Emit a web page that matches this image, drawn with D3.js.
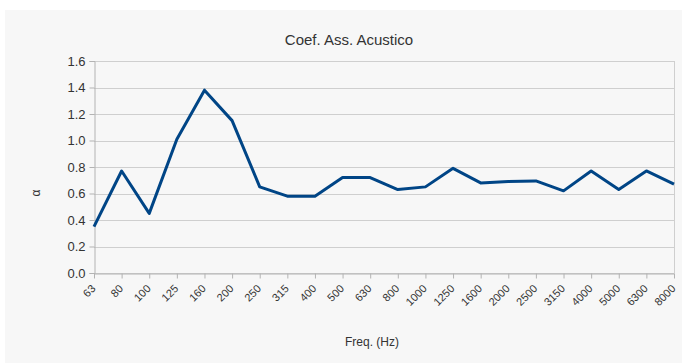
<!DOCTYPE html>
<html>
<head>
<meta charset="utf-8">
<script src="https://cdn.jsdelivr.net/npm/d3@7"></script>
<style>
  html, body { margin: 0; padding: 0; background: #fff; }
  svg { display: block; font-family: 'Liberation Sans', Arial, sans-serif; }
</style>
</head>
<body>
<div id="chart"></div>
<script>
const freqs = ['63', '80', '100', '125', '160', '200', '250', '315', '400', '500', '630',
  '800', '1000', '1250', '1600', '2000', '2500', '3150', '4000', '5000', '6300', '8000'];
const alphaValues = [0.35, 0.77, 0.45, 1.01, 1.38, 1.15, 0.65, 0.58, 0.58, 0.72, 0.72,
  0.63, 0.65, 0.79, 0.68, 0.69, 0.695, 0.62, 0.77, 0.63, 0.77, 0.67];
const yTicks = [0, 0.2, 0.4, 0.6, 0.8, 1.0, 1.2, 1.4, 1.6];

const width = 682;
const height = 363;
const margin = { top: 61, right: 8, bottom: 90, left: 94 };

const svg = d3.select('#chart')
  .append('svg')
  .attr('width', width)
  .attr('height', height);

// chart background
svg.append('rect')
  .attr('x', 5)
  .attr('y', 10)
  .attr('width', width - 5)
  .attr('height', height - 10)
  .attr('fill', '#f7f7f7');

const x = d3.scalePoint()
  .domain(freqs)
  .range([margin.left, width - margin.right]);

const y = d3.scaleLinear()
  .domain([0, 1.6])
  .range([height - margin.bottom, margin.top]);

// grid
svg.append('g')
  .selectAll('line')
  .data(yTicks)
  .enter()
  .append('line')
  .attr('x1', margin.left)
  .attr('x2', width - margin.right)
  .attr('y1', (d) => Math.round(y(d)) + 0.5)
  .attr('y2', (d) => Math.round(y(d)) + 0.5)
  .attr('stroke', '#cfcfcf')
  .attr('stroke-width', 1);

// right border
svg.append('line')
  .attr('x1', width - margin.right + 0.5)
  .attr('x2', width - margin.right + 0.5)
  .attr('y1', y(1.6))
  .attr('y2', y(0))
  .attr('stroke', '#cfcfcf');

// y axis
const yAxis = svg.append('g')
  .attr('transform', `translate(${margin.left + 0.5},0)`)
  .call(d3.axisLeft(y).tickValues(yTicks).tickFormat(d3.format('.1f')).tickSize(5).tickPadding(4));
yAxis.select('.domain').attr('stroke', '#b3b3b3');
yAxis.selectAll('.tick line').attr('stroke', '#b3b3b3');
yAxis.selectAll('.tick text')
  .attr('fill', '#333')
  .style('font-size', '13px');

// x axis
const xAxis = svg.append('g')
  .attr('transform', `translate(0,${Math.round(y(0)) + 0.5})`)
  .call(d3.axisBottom(x).tickSize(5).tickSizeOuter(0));
xAxis.select('.domain').attr('stroke', '#b3b3b3');
xAxis.selectAll('.tick line').attr('stroke', '#b3b3b3');
xAxis.selectAll('.tick text')
  .attr('fill', '#333')
  .style('font-size', '11px')
  .attr('text-anchor', 'end')
  .attr('x', 0)
  .attr('y', 0)
  .attr('dy', '0.35em')
  .attr('transform', 'translate(-1,13) rotate(-45)');

// line
const line = d3.line()
  .x((d, i) => x(freqs[i]))
  .y((d) => y(d));

svg.append('path')
  .datum(alphaValues)
  .attr('d', line)
  .attr('fill', 'none')
  .attr('stroke', '#004586')
  .attr('stroke-width', 3)
  .attr('stroke-linejoin', 'round');

// title
svg.append('text')
  .attr('x', 349)
  .attr('y', 45)
  .attr('text-anchor', 'middle')
  .attr('fill', '#333')
  .style('font-size', '15px')
  .text('Coef. Ass. Acustico');

// axis titles
svg.append('text')
  .attr('x', 372)
  .attr('y', 346)
  .attr('text-anchor', 'middle')
  .attr('fill', '#333')
  .style('font-size', '12px')
  .text('Freq. (Hz)');

svg.append('text')
  .attr('transform', 'translate(40,193) rotate(-90)')
  .attr('text-anchor', 'middle')
  .attr('fill', '#333')
  .style('font-size', '12px')
  .text('α');
</script>
</body>
</html>
